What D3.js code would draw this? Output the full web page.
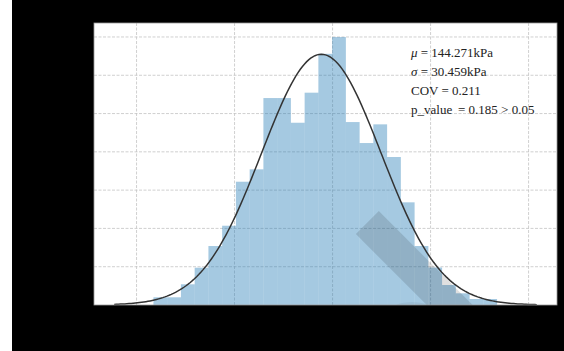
<!DOCTYPE html>
<html>
<head>
<meta charset="utf-8">
<script src="https://cdn.jsdelivr.net/npm/d3@7"></script>
<style>
  body { margin: 0; background: #fff; }
  svg { display: block; }
</style>
</head>
<body>
<svg id="chart" width="564" height="351"></svg>
<script>
    var w = 564;
    var h = 351;

    // histogram: bin edges span [binMin, binMax], one density per bin
    var binMin = 58.62;
    var binMax = 233.93;
    var densities = [0.000402, 0.000402, 0.001081, 0.001948, 0.003081, 0.004141, 0.006439,
                     0.007086, 0.01081, 0.01081, 0.00952, 0.01109, 0.01312, 0.013995,
                     0.009556, 0.00846, 0.009436, 0.00773, 0.005363, 0.003081, 0.001958,
                     0.001044, 0.000611, 0.000313, 0.000313];

    // fitted normal curve
    var mu = 144.271;
    var sigma = 30.459;
    var curveRange = [38.6, 254.2];

    var xTicks = [50, 100, 150, 200, 250];
    var yTicks = [0, 0.002, 0.004, 0.006, 0.008, 0.010, 0.012, 0.014];
    var labels = [
        {sym: "\u03bc", rest: " = 144.271kPa"},
        {sym: "\u03c3", rest: " = 30.459kPa"},
        {sym: "", rest: "COV = 0.211"},
        {sym: "", rest: "p_value \u2009= 0.185 > 0.05"}
    ];

    var plot = {left: 94, right: 557, top: 23, bottom: 305};

    var x = d3.scaleLinear().domain([28.3, 264.5]).range([plot.left, plot.right]);
    var y = d3.scaleLinear().domain([0, 0.01473]).range([plot.bottom, plot.top]);

    var svg = d3.select("#chart");

    // background: thin white strip then black
    svg.append("rect").attr("x", 0).attr("y", 0).attr("width", w).attr("height", h).attr("fill", "#fff");
    svg.append("rect").attr("x", 12).attr("y", 0).attr("width", w - 12).attr("height", h).attr("fill", "#000");

    svg.append("rect")
        .attr("x", plot.left).attr("y", plot.top)
        .attr("width", plot.right - plot.left).attr("height", plot.bottom - plot.top)
        .attr("fill", "#fff");

    svg.append("clipPath").attr("id", "clip")
      .append("rect")
        .attr("x", plot.left).attr("y", plot.top)
        .attr("width", plot.right - plot.left).attr("height", plot.bottom - plot.top);

    // grid
    svg.append("g").selectAll("line")
        .data(xTicks).enter().append("line")
        .attr("x1", function(d){ return x(d); })
        .attr("x2", function(d){ return x(d); })
        .attr("y1", plot.top).attr("y2", plot.bottom)
        .style("stroke", "#c4c4c4").style("stroke-width", 0.8)
        .style("stroke-dasharray", "3,1.5");
    svg.append("g").selectAll("line")
        .data(yTicks.slice(1)).enter().append("line")
        .attr("y1", function(d){ return y(d); })
        .attr("y2", function(d){ return y(d); })
        .attr("x1", plot.left).attr("x2", plot.right)
        .style("stroke", "#c4c4c4").style("stroke-width", 0.8)
        .style("stroke-dasharray", "3,1.5");

    // bars
    var binW = (binMax - binMin) / densities.length;
    svg.append("g").selectAll("rect")
        .data(densities).enter().append("rect")
        .attr("x", function(d, i){ return x(binMin + i * binW); })
        .attr("width", function(d, i){ return x(binMin + (i + 1) * binW) - x(binMin + i * binW); })
        .attr("y", function(d){ return y(d); })
        .attr("height", function(d){ return y(0) - y(d); })
        .style("fill", "#1f77b4")
        .style("opacity", 0.4);

    // faint watermark band
    var wm = svg.append("g").attr("clip-path", "url(#clip)");
    wm.append("rect")
        .attr("x", 0).attr("y", -16.25).attr("width", 160).attr("height", 32.5)
        .attr("transform", "translate(367.3,222.6) rotate(45)")
        .style("fill", "#000").style("opacity", 0.12);
    wm.append("ellipse")
        .attr("cx", 412).attr("cy", 311).attr("rx", 22).attr("ry", 9)
        .style("fill", "#000").style("opacity", 0.05);

    // normal fit
    var pts = d3.range(0, 201).map(function(i){
        var v = curveRange[0] + (curveRange[1] - curveRange[0]) * i / 200;
        var z = (v - mu) / sigma;
        return [v, Math.exp(-0.5 * z * z) / (sigma * Math.sqrt(2 * Math.PI))];
    });
    svg.append("path")
        .datum(pts)
        .attr("d", d3.line().x(function(d){ return x(d[0]); }).y(function(d){ return y(d[1]); }))
        .style("fill", "none")
        .style("stroke", "#333")
        .style("stroke-width", 1.5);

    // frame
    svg.append("rect")
        .attr("x", plot.left).attr("y", plot.top)
        .attr("width", plot.right - plot.left).attr("height", plot.bottom - plot.top)
        .style("fill", "none").style("stroke", "#999").style("stroke-width", 0.8);

    // axes (black on black, as in the source)
    svg.append("g")
        .attr("transform", "translate(0," + plot.bottom + ")")
        .call(d3.axisBottom(x).tickValues(xTicks).tickSize(0).tickPadding(8))
        .call(function(g){ g.select(".domain").remove(); })
        .selectAll("text").style("fill", "#000").style("font-family", "Liberation Serif").style("font-size", "12px");
    svg.append("g")
        .attr("transform", "translate(" + plot.left + ",0)")
        .call(d3.axisLeft(y).tickValues(yTicks).tickFormat(d3.format(".3f")).tickSize(0).tickPadding(8))
        .call(function(g){ g.select(".domain").remove(); })
        .selectAll("text").style("fill", "#000").style("font-family", "Liberation Serif").style("font-size", "12px");

    // stats text
    var t = svg.append("g").selectAll("text")
        .data(labels).enter().append("text")
        .attr("x", 411)
        .attr("y", function(d, i){ return 57 + i * 19; })
        .style("font-family", "Liberation Serif, Times New Roman, serif")
        .style("font-size", "13px")
        .style("fill", "#222");
    t.append("tspan").style("font-style", "italic").text(function(d){ return d.sym; });
    t.append("tspan").text(function(d){ return d.rest; });
</script>
</body>
</html>
